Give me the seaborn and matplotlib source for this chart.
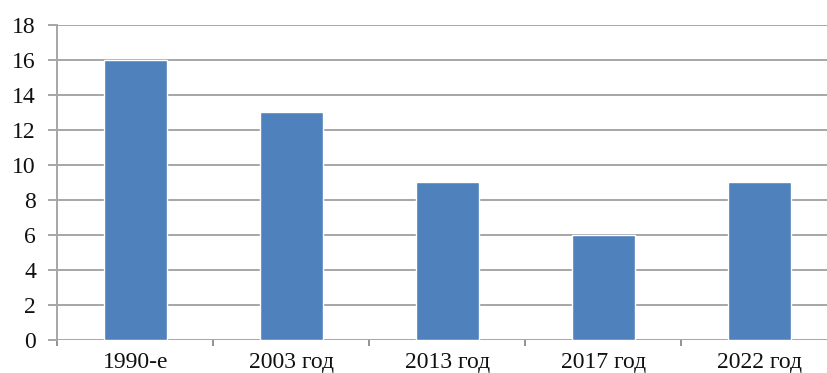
import matplotlib
matplotlib.use("Agg")
import matplotlib.pyplot as plt
import seaborn as sns
import pandas as pd
from matplotlib.ticker import FixedLocator

categories = ["1990-е", "2003 год", "2013 год", "2017 год", "2022 год"]
values = [16, 13, 9, 6, 9]
y_ticks = [0, 2, 4, 6, 8, 10, 12, 14, 16, 18]

sns.set_style("white")
plt.rcParams["font.family"] = ["Liberation Serif", "DejaVu Serif"]

df = pd.DataFrame({"period": categories, "value": values})

fig = plt.figure(figsize=(8.28, 3.73), dpi=100)
ax = fig.add_axes([0.0694, 0.0885, 0.942, 0.8445])

grid_color = "#A6A6A6"
sns.barplot(data=df, x="period", y="value", order=categories, color="#4F81BD",
            saturation=1, width=0.4, ax=ax, zorder=3)

ax.set_ylim(0, 18)
ax.set_xlim(-0.5, 4.5)
ax.set_yticks(y_ticks)
ax.set_xlabel("")
ax.set_ylabel("")

# horizontal gridlines
for t in y_ticks:
    ax.axhline(t, color=grid_color, linewidth=1.4, zorder=1)

for side in ["top", "right", "bottom"]:
    ax.spines[side].set_visible(False)
ax.spines["left"].set_color(grid_color)
ax.spines["left"].set_linewidth(1.4)

ax.tick_params(axis="y", length=6.5, width=1.4, color=grid_color, pad=9,
               labelsize=17, labelcolor="#111111", direction="out", left=True)
ax.tick_params(axis="x", which="major", length=0, pad=9, labelsize=17,
               labelcolor="#111111")
ax.xaxis.set_minor_locator(FixedLocator([-0.5, 0.5, 1.5, 2.5, 3.5, 4.5]))
ax.tick_params(axis="x", which="minor", length=4.5, width=1.2, color="#808080",
               direction="out", bottom=True)

fig.savefig("out.png", dpi=100)
